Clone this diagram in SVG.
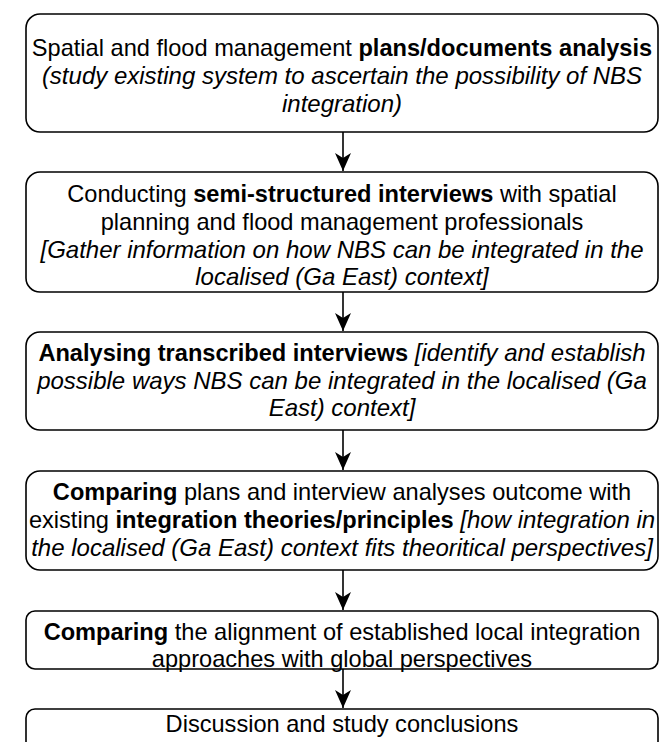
<svg xmlns="http://www.w3.org/2000/svg" width="660" height="742" viewBox="0 0 660 742">
<defs>
<marker id="ah" markerWidth="18" markerHeight="16" refX="18" refY="8" orient="auto" markerUnits="userSpaceOnUse">
<path d="M0,0 L18,8 L0,16 L5,8 Z" fill="#000"/>
</marker>
<style>
.box{fill:#fff;stroke:#000;stroke-width:1.6}
.t{font-family:"Liberation Sans",Arial,sans-serif;font-size:23.6px;fill:#000;text-anchor:middle}
.b{font-weight:bold}
.i{font-style:italic;font-size:24px}
.c{stroke:#000;stroke-width:1.6;fill:none}
</style>
</defs>
<rect width="660" height="742" fill="#fff"/>
<g id="connectors">
<line class="c" x1="343" y1="132" x2="343" y2="171" marker-end="url(#ah)"/>
<line class="c" x1="343" y1="292" x2="343" y2="331" marker-end="url(#ah)"/>
<line class="c" x1="343" y1="430" x2="343" y2="470" marker-end="url(#ah)"/>
<line class="c" x1="343" y1="570" x2="343" y2="610" marker-end="url(#ah)"/>
<line class="c" x1="343" y1="669" x2="343" y2="708" marker-end="url(#ah)"/>
</g>
<g id="n1">
<rect class="box" x="26" y="14" width="632" height="118" rx="14"/>
<text class="t" x="342" y="55.5">Spatial and flood management <tspan class="b">plans/documents analysis</tspan></text>
<text class="t i" x="342" y="83.5">(study existing system to ascertain the possibility of NBS</text>
<text class="t i" x="342" y="111.5">integration)</text>
</g>
<g id="n2">
<rect class="box" x="26" y="172" width="632" height="120" rx="14"/>
<text class="t" x="342" y="201.5">Conducting <tspan class="b">semi-structured interviews</tspan> with spatial</text>
<text class="t" x="342" y="229.5">planning and flood management professionals</text>
<text class="t i" x="342" y="257.5">[Gather information on how NBS can be integrated in the</text>
<text class="t i" x="342" y="284.5">localised (Ga East) context]</text>
</g>
<g id="n3">
<rect class="box" x="26" y="332" width="632" height="98" rx="14"/>
<text class="t" x="342" y="360.5"><tspan class="b">Analysing transcribed interviews</tspan> <tspan class="i">[identify and establish</tspan></text>
<text class="t i" x="342" y="388.5">possible ways NBS can be integrated in the localised (Ga</text>
<text class="t i" x="342" y="415.5">East) context]</text>
</g>
<g id="n4">
<rect class="box" x="26" y="471" width="632" height="99" rx="14"/>
<text class="t" x="342" y="499.5"><tspan class="b">Comparing</tspan> plans and interview analyses outcome with</text>
<text class="t" x="342" y="527.5">existing <tspan class="b">integration theories/principles</tspan> <tspan class="i">[how integration in</tspan></text>
<text class="t i" x="342" y="555.5">the localised (Ga East) context fits theoritical perspectives]</text>
</g>
<g id="n5">
<rect class="box" x="26" y="611" width="632" height="58" rx="9"/>
<text class="t" x="342" y="639.5"><tspan class="b">Comparing</tspan> the alignment of established local integration</text>
<text class="t" x="342" y="666.5">approaches with global perspectives</text>
</g>
<g id="n6">
<rect class="box" x="26" y="709" width="632" height="60" rx="9"/>
<text class="t" x="342" y="731.5">Discussion and study conclusions</text>
</g>
</svg>
